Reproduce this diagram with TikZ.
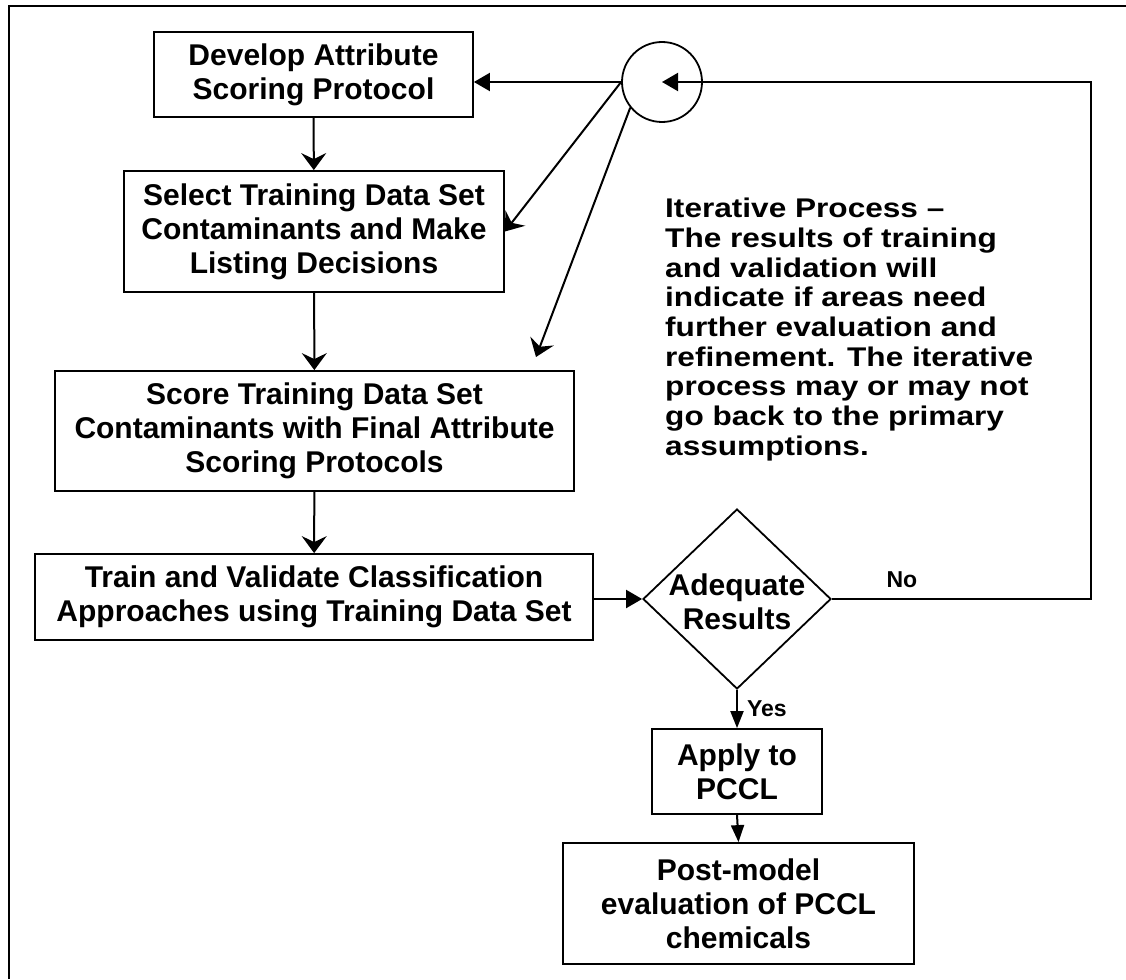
\documentclass[tikz,border=0pt]{standalone}
\usepackage{fontspec}
\setmainfont{Liberation Sans}
\newfontfamily\notefont{Liberation Sans}[FakeStretch=1.17,Ligatures=TeX]
\usetikzlibrary{arrows.meta,shapes.geometric,positioning}

\begin{document}
\begin{tikzpicture}
  [x=1pt,y=-1pt,
  % Styles
  stepbox/.style={draw,line width=1.8pt,align=center,inner sep=0pt,
    font=\fontsize{30}{34}\selectfont\bfseries},
  decision/.style={draw,diamond,line width=1.8pt,inner sep=0pt,
    minimum width=188pt,minimum height=180pt},
  loopnode/.style={draw,circle,line width=1.8pt,minimum size=80pt,inner sep=0pt},
  flow/.style={line width=2pt,-{Stealth[length=17pt,width=25pt,inset=6pt]}},
  loopback/.style={line width=2pt,-{Triangle[length=16pt,width=18pt]}},
  small arrow/.style={line width=2pt,-{Triangle[length=17pt,width=13pt]}},
  answer/.style={inner sep=0pt,font=\fontsize{23}{26}\selectfont\bfseries},
  note text/.style={inner sep=0pt,align=left,
    font=\notefont\fontsize{27}{29.7}\selectfont\bfseries},
  frame/.style={line width=2.4pt}]
  \useasboundingbox (0,0) rectangle (1126,979);
  % Frame
  \draw[frame] (9,979) -- (9,6) -- (1126,6);
  % Main column
  \node[stepbox,minimum width=319pt,minimum height=85pt] (dev) at (313.5,74.5)
    {Develop Attribute\\Scoring Protocol};
  \node[stepbox,minimum width=380pt,minimum height=121pt] (sel) at (314,231.5)
    {Select Training Data Set\\Contaminants and Make\\Listing Decisions};
  \node[stepbox,minimum width=519pt,minimum height=120pt] (score) at (314.5,431)
    {Score Training Data Set\\Contaminants with Final Attribute\\Scoring Protocols};
  \node[stepbox,minimum width=558pt,minimum height=86pt] (train) at (314,597)
    {Train and Validate Classification\\Approaches using Training Data Set};
  % Decision and output
  \node[decision,label={[stepbox,draw=none,yshift=-3pt]center:Adequate\\Results}]
    (dec) at (737,599) {};
  \node[stepbox,minimum width=170pt,minimum height=85pt] (apply) at (737,771.5)
    {Apply to\\PCCL};
  \node[stepbox,minimum width=351pt,minimum height=121pt] (post) at (738.5,903.5)
    {Post-model\\evaluation of PCCL\\chemicals};
  % Iteration
  \node[loopnode] (loop) at (662,82) {};
  \coordinate (riser) at (1091,82);
  \coordinate (scoretip) at (536,357);
  \node[note text,anchor=north west] (note) at (665,198)
    {Iterative Process --\\The results of training\\and validation will\\indicate if areas need\\further evaluation and\\refinement. The iterative\\process may or may not\\go back to the primary\\assumptions.};
  % Connectors
  \draw[flow] (dev) -- (sel);
  \draw[flow] (sel) -- (score);
  \draw[flow] (score) -- (train);
  \draw[loopback] (train.east |- dec.west) -- (dec.west);
  \draw[small arrow] (dec.south) -- node[answer,right=9pt] {Yes} (apply.north);
  \draw[small arrow] (apply.south) -- (post.north);
  \draw[loopback] (dec.east) -- node[answer,pos=0.27,above=10pt] {No} (dec.east -| riser)
    -- (riser) -- (loop.center);
  \draw[loopback] (loop.west) -- (loop.west -| dev.east);
  \draw[flow] (loop.west) -- (sel.east);
  \draw[flow] (loop.219) -- (scoretip);
\end{tikzpicture}
\end{document}
